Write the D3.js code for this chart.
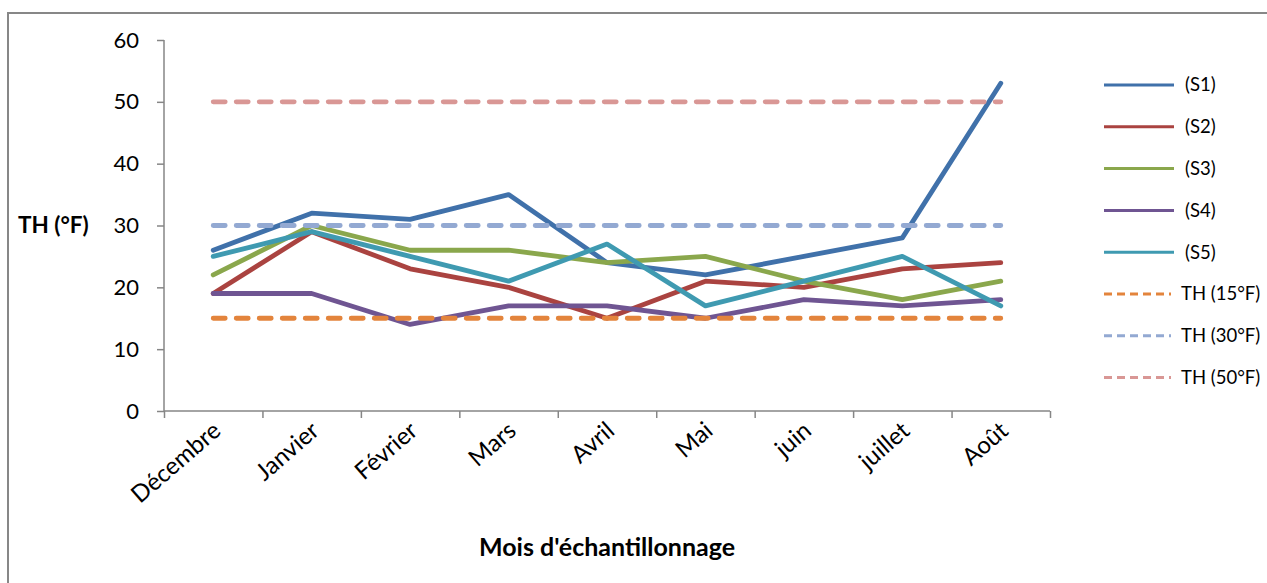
<!DOCTYPE html>
<html>
<head>
<meta charset="utf-8">
<script src="https://cdn.jsdelivr.net/npm/d3@7"></script>
<style>
  body { margin: 0; background: #fff; }
  text { font-family: Lato, "Liberation Sans", sans-serif; fill: #000; }
</style>
</head>
<body>
<div class="vis-chart"></div>
<script>
const months = ['Décembre', 'Janvier', 'Février', 'Mars', 'Avril', 'Mai', 'juin', 'juillet', 'Août'];
const yTicks = [0, 10, 20, 30, 40, 50, 60];

const s1 = [26, 32, 31, 35, 24, 22, 25, 28, 53];
const s2 = [19, 29, 23, 20, 15, 21, 20, 23, 24];
const s3 = [22, 30, 26, 26, 24, 25, 21, 18, 21];
const s4 = [19, 19, 14, 17, 17, 15, 18, 17, 18];
const s5 = [25, 29, 25, 21, 27, 17, 21, 25, 17];

const th15 = [15, 15, 15, 15, 15, 15, 15, 15, 15];
const th30 = [30, 30, 30, 30, 30, 30, 30, 30, 30];
const th50 = [50, 50, 50, 50, 50, 50, 50, 50, 50];

const seriesNames = ['(S1)', '(S2)', '(S3)', '(S4)', '(S5)', 'TH (15°F)', 'TH (30°F)', 'TH (50°F)'];
const seriesValues = [s1, s2, s3, s4, s5, th15, th30, th50];
const seriesColors = ['#4071AA', '#AA4340', '#8AA74C', '#6F5592', '#3F9AB1', '#E3843C', '#93A9D2', '#D99795'];
const seriesDashed = [false, false, false, false, false, true, true, true];

const width = 1267;
const height = 583;

const svg = d3.select('.vis-chart').append('svg')
    .attr('width', width).attr('height', height);

// chart frame (only top and left edges show)
svg.append('rect')
    .attr('x', 8).attr('y', 13)
    .attr('width', width + 20).attr('height', height + 20)
    .attr('fill', 'none')
    .attr('stroke', '#878787')
    .attr('stroke-width', 2);

const plot = { left: 164, right: 1050, top: 40, bottom: 411 };

const xScale = d3.scalePoint()
    .domain(months)
    .range([plot.left, plot.right])
    .padding(0.5);

// category boundaries for the tick marks
const xEdge = d3.scaleLinear().domain([0, months.length]).range([plot.left, plot.right]);

const yScale = d3.scaleLinear().domain([0, 60]).range([plot.bottom, plot.top]);

const axisColor = '#868686';

const yAxisG = svg.append('g')
    .attr('transform', `translate(${plot.left},0)`)
    .call(d3.axisLeft(yScale).tickValues(yTicks).tickSize(7).tickPadding(18));
yAxisG.selectAll('path, line').attr('stroke', axisColor).attr('stroke-width', 1.5);
yAxisG.select('.domain').attr('d', `M0,${plot.top}V${plot.bottom}`);
yAxisG.selectAll('text')
    .style('font-size', '22px')
    .attr('font-family', 'Lato, sans-serif');

const xAxisG = svg.append('g')
    .attr('transform', `translate(0,${plot.bottom})`)
    .call(d3.axisBottom(xEdge).tickValues(d3.range(months.length + 1)).tickSize(7).tickFormat(''));
xAxisG.selectAll('path, line').attr('stroke', axisColor).attr('stroke-width', 1.5);
xAxisG.select('.domain').attr('d', `M${plot.left},0H${plot.right}`);

// rotated month labels
svg.append('g').selectAll('text')
    .data(months)
    .enter().append('text')
    .attr('transform', d => `translate(${xScale(d) + 9},${plot.bottom + 22}) rotate(-41)`)
    .attr('text-anchor', 'end')
    .style('font-size', '24px')
    .text(d => d);

// axis titles
svg.append('text')
    .attr('x', 18).attr('y', yScale(30))
    .attr('dy', '0.35em')
    .style('font-size', '22.5px')
    .style('font-weight', 'bold')
    .text('TH (°F)');

svg.append('text')
    .attr('x', 607).attr('y', 556)
    .attr('text-anchor', 'middle')
    .style('font-size', '25px')
    .style('font-weight', 'bold')
    .text("Mois d'échantillonnage");

const line = d3.line()
    .x((d, i) => xScale(months[i]))
    .y(d => yScale(d));

seriesValues.forEach((vals, k) => {
    svg.append('path')
        .datum(vals)
        .attr('fill', 'none')
        .attr('stroke', seriesColors[k])
        .attr('stroke-width', 4.8)
        .attr('stroke-linejoin', 'round')
        .attr('stroke-linecap', 'round')
        .attr('stroke-dasharray', seriesDashed[k] ? '12,11' : null)
        .attr('d', line);
});

// legend
const legend = svg.append('g').attr('transform', 'translate(1104,85)');
seriesNames.forEach((name, k) => {
    const row = legend.append('g').attr('transform', `translate(0,${k * 41.8})`);
    row.append('line')
        .attr('x1', 0).attr('x2', seriesDashed[k] ? 67 : 70)
        .attr('stroke', seriesColors[k])
        .attr('stroke-width', 3)
        .attr('stroke-dasharray', seriesDashed[k] ? '8,5' : null);
    row.append('text')
        .attr('x', seriesDashed[k] ? 77 : 81)
        .attr('dy', '0.35em')
        .style('font-size', '18.5px')
        .text(name);
});
</script>
</body>
</html>
